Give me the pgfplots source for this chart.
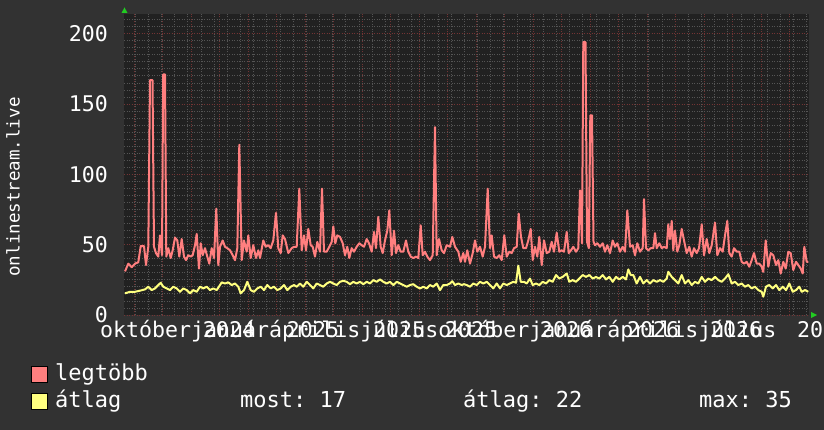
\documentclass[border=0pt]{standalone}
\usepackage{pgfplots}
\usepackage{pgfplotstable}
\pgfplotsset{compat=1.18}
\usepackage{fontspec}
\newfontfamily\rrd{DejaVu Sans Mono}
\newcommand\rf{\rrd\fontsize{21.6pt}{26pt}\selectfont}
\newcommand\lf{\rrd\fontsize{22pt}{26pt}\selectfont}
\frenchspacing

\definecolor{canvas}{HTML}{323232}
\definecolor{plotbg}{HTML}{212121}
\definecolor{gridmin}{HTML}{555555}
\definecolor{gridmaj}{HTML}{733434}
\definecolor{maxc}{HTML}{FF7F7F}
\definecolor{avgc}{HTML}{FFFF7F}
\definecolor{arrowc}{HTML}{22CC22}

% x = position on the time axis, y = viewers
\pgfplotstableread{
x y
125 31
128.3 36.5
131.7 34
135 36.5
138.3 37.5
140.7 49
144 49
146 35.5
148.3 48.5
150 167
152.5 167
154 48.5
156 44
158.3 41.5
160 56.6
162 42.5
163.2 171
165 171
166.3 41.5
168.3 47.5
170.7 40.5
172.7 46
175 55
177.3 53
179.3 41.5
181.7 54
184 41.5
186 39
188.3 42.5
190.7 41.5
192.7 42.5
195 49.6
196.7 57.6
199 33
200.7 51
202.7 42.5
205 47.5
207.3 41.5
209.3 36.5
211.7 47.5
214 40.5
216.3 75.6
218.3 35.5
220 48.5
222.7 53
225 48.5
227.3 47.5
230 46
232.7 42.5
235 39
237.3 47.5
239.3 121
241.7 39
244 53
246.7 45
248.3 56.6
250.7 40.5
253.3 49.6
256 40.5
258.3 46
260 40.5
263.3 53
265.7 48.5
268.3 49.6
270.7 47.5
273.3 53
276 72.6
278.3 47.5
280.7 44
282.7 56.6
285 54
288.3 44
291.7 47.5
294 48.5
296.7 48.5
299.3 89.8
301.7 46
304 56.6
306 46
308.3 61.2
310.7 49.6
312.7 48.5
315 41.5
317.3 52
320 45
322 89.8
324 45
326.7 45
329.3 48.5
331.7 52
333.3 63
335.3 51
337.3 56.6
340 55.5
342.7 51
345 42.5
347.3 48.5
349.3 40.5
351.7 47.5
354 45
356.7 48.5
359.3 51
361.7 49.6
364 48.5
366.7 54
369 51
371.7 45
374 59
376 47.5
378.3 69.7
380.7 48.5
382.7 44
385 53
387.3 60
389.3 74.4
391.7 42.5
394 60
396 44
398.3 49.6
400.7 45
403.3 45
406 53
408.3 45
410.7 41.5
413.3 40.5
416 41.5
418.3 40.5
420.7 63.8
422.7 42.5
425 45
427.3 41.5
430 39
432.7 42.5
435 133.6
436.7 42.5
439 54
441.7 46
444 44
446.7 49.6
450 48.5
452.3 55.5
455 48.5
458.3 45
460.7 37.8
463.3 44
465 37.8
467.3 46
470 36.5
472.7 44
475 53
477.3 45
480 48.5
482.7 41.5
485 48.5
487.7 89.8
490 47.5
491.7 56.6
494 41.5
496.7 40.5
499.3 42.5
501.7 39
504.3 56.6
506.7 41.5
509.3 45
511.7 44
514 47.5
516.7 48.5
518.7 72.1
521 55.5
523.3 47.5
526 47.5
528.3 53
530.7 61.2
532.7 39
535 48.5
537.3 41.5
539.3 55.5
541.7 35.5
544 53
546.7 44
549.3 45
551.7 52
554 45
556.7 58.5
559.3 45
561.7 46
564 45
566.7 59.1
568.7 44
571 46
573.3 48.5
576 45
578.3 47.5
580 88.6
582 51
583.3 194
585.5 194
587 52
588.8 47.5
590.3 142
592 142
593.5 52
595 49.6
597.3 51
600 48.5
602.7 51
605 45
607.3 49.6
610 44
612.7 53
615 48.5
617.3 51
620 45
622.7 48.5
625 45
627.3 74.4
630 48.5
632.7 49.6
635 42.5
637.3 51
640 45
642.7 47.5
644 82.3
646 47.5
648.3 46
650.7 47.5
653.3 47.5
655 58.2
656.7 47.5
659.3 51
661.7 47.5
664 48.5
666.7 47.5
668.3 64.5
670 54
671.7 66.9
673.3 46
675 60
677.3 45
679.3 49.6
681.7 61.2
684 53
686.7 44
689.3 48.5
691.7 41.5
694 47.5
696.7 44
699 47.5
701.7 64.5
704 42.5
706.7 54
709.3 44
711.7 49.6
715 65.7
717.3 42.5
720 47.5
722.7 45
725 56.6
727.3 66.9
729.3 44
731.7 41.5
734 47.5
736.7 45
739.3 45
741.7 37.8
744 36.5
746.7 37.8
749.3 34.3
751.7 39
754 44
756.7 36.5
759.3 36.5
761.7 34.3
763.3 30.7
765.7 53
768.3 34.3
770.7 44
773.3 42.5
776 35.5
778.3 39
780.7 29.5
783.3 37.8
785.7 33
788.3 45
790.7 44
793.3 31.9
796 37.8
798.3 35.5
800.7 33
802.7 29.5
804.3 48.5
806.7 37.8
808.3 37.8
}\maxdata

\pgfplotstableread{
x y
125 15.4
130 16.5
135 16.5
140 17.3
145 18.2
148.3 20.1
151.7 17.7
155 18.9
158.3 21.3
160.7 22.9
163.3 20.1
166.7 18.9
170 17.7
173.3 20.1
176.7 18.9
180 16.5
183.3 18.9
186.7 17.7
190 15.4
193.3 17.7
196.7 16.5
200 20.1
203.3 18.9
206.7 20.1
210 17.7
213.3 18.9
216.7 17.7
220 21.3
221.7 23.2
225 22.4
228.3 23.2
231.7 21.3
235 22.4
238.3 20.1
240.7 15.4
244 17.7
247.3 23.6
250.7 17.7
254 16.5
257.3 18.9
260.7 20.1
264 17.7
267.3 21.3
270.7 18.9
274 20.1
277.3 17.7
280.7 18.9
284 21.3
287.3 17.7
290.7 20.1
294 21.3
296.7 20.1
300 22.4
303.3 20.1
306.7 23.6
310 21.3
313.3 18.9
316.7 22.4
320 21.3
323.3 20.1
326.7 22.4
330 23.6
333.3 22.4
336.7 21.3
340 23.6
343.3 24.3
346.7 23.6
350 21.9
353.3 23.6
356.7 22.4
360 23.6
363.3 21.9
366.7 23.6
370 22.4
373.3 24.8
376.7 23.6
380 25.3
383.3 23.6
386.7 22.4
390 23.6
393.3 21.3
396.7 23.6
400 22.4
403.3 21.3
406.7 20.1
410 21.3
413.3 21.9
416.7 20.1
420 18.9
423.3 20.1
426.7 18.9
430 21.3
433.3 20.1
436.7 22.4
440 17.7
443.3 21.3
446.7 21.3
450 22.4
452.3 24
455 21.3
458.3 22.4
461.7 21.3
464 21.9
466.7 21.3
470 20.1
473.3 22.4
476.7 21.3
480 23.6
483.3 22.4
486.7 23.6
490 21.3
493.3 18.9
496.7 22.4
500 18.9
503.3 22.4
506.7 21.3
510 22.4
513.3 23.6
516 22.9
518.3 35
520.7 23.6
524 23.6
526.7 22.4
530 25.9
532.7 21.3
536 22.4
539.3 21.3
542.7 23.6
546 22.4
549.3 24.8
552.7 23.6
556 28.4
559.3 25.9
562.7 27.1
566.7 29.5
569.3 23.6
572.7 24.8
576 23.6
579.3 25.9
582.7 28.4
586 27.1
589.3 28.4
592.7 25.9
596 27.1
599.3 25.9
602.7 28.4
606 25.3
609.3 27.1
612.7 23.6
616 27.1
619.3 25.3
622.7 27.1
626 25.3
628.3 32.4
630.7 28.4
633.3 28.4
636.7 22.4
640 27.1
643.3 22.4
646.7 24.8
650 22.4
653.3 24.8
656.7 23.6
660 24.8
663.3 23.6
666.7 25.9
668.3 30.7
671.7 27.1
675 24.8
678.3 22.4
681.7 28.4
685 22.4
688.3 24.8
691.7 21.3
695 23.6
698.3 22.4
701.7 27.1
705 23.6
708.3 25.9
711.7 24.8
715 27.1
718.3 24.8
721.7 23.6
725 25.9
728.3 29
731.7 22.4
735 23.6
738.3 21.3
741.7 22.4
745 20.1
748.3 21.3
751.7 18.9
755 20.1
758.3 17.7
761.7 16.5
763.3 13
766 20.1
769.3 21.3
772.7 18.9
776 21.3
779.3 17.7
782.7 20.1
786 17.7
789.3 22.4
792.7 16.5
796 17.7
799.3 20.1
801.7 16.5
805 17.7
808.3 16.5
}\avgdata

\begin{document}
\begin{tikzpicture}
\fill[canvas] (0,0) rectangle (824pt,430pt);

\begin{axis}[
  at={(124pt,115pt)}, anchor=south west,
  width=685pt, height=301pt, scale only axis,
  xmin=124, xmax=809, ymin=0, ymax=214,
  axis background/.style={fill=plotbg},
  axis line style={draw=none},
  xtick={134.3,162.8,...,809},
  minor xtick={135.1,148.27,...,809},
  ytick={0,50,...,200},
  minor ytick={0,5,...,214},
  xticklabels={},
  grid=both,
  minor grid style={gridmin, dash pattern=on 1pt off 1.5pt, line width=0.8pt},
  major grid style={gridmaj, dash pattern=on 1pt off 1.5pt, line width=0.8pt},
  tick style={draw=none},
  /pgf/number format/assume math mode=true,
  yticklabel style={font=\rf, text=white, anchor=east, inner sep=0pt, xshift=-16pt},
]
\addplot[maxc, line width=2pt, line join=round] table[x=x, y=y] {\maxdata};
\addplot[avgc, line width=2pt, line join=round] table[x=x, y=y] {\avgdata};
\end{axis}

% green axis arrows
\fill[arrowc] (121.5pt,417pt) -- (127.5pt,417pt) -- (124.5pt,422.5pt) -- cycle;
\fill[arrowc] (811pt,118pt) -- (811pt,112pt) -- (817pt,115pt) -- cycle;

% y label
\node[rotate=90, font=\rrd\fontsize{17.5pt}{20pt}\selectfont, text=white, inner sep=0pt] at (13pt,243pt) {onlinestream.live};

% overlapping time labels, month names and years on top of each other
\node[anchor=base west, font=\rf, text=white, inner sep=0pt] at (100pt,92pt)
  {októberjanuáráprilisjúliusoktóberjanuáráprilisjúlius};
\foreach \xx/\yy in {229/2024,313/2025,399/2025,471/2025,566/2026,653/2026,736/2026,823/2026}
  \node[anchor=base, font=\rf, text=white, inner sep=0pt] at (\xx pt,92pt) {\yy};

% legend
\filldraw[fill=maxc, draw=black, line width=0.8pt] (31.5pt,48pt) rectangle (47.5pt,64pt);
\filldraw[fill=avgc, draw=black, line width=0.8pt] (31.5pt,21pt) rectangle (47.5pt,37pt);
\node[anchor=base west, font=\lf, text=white, inner sep=0pt] at (55pt,49pt) {legtöbb};
\node[anchor=base west, font=\lf, text=white, inner sep=0pt] at (55pt,22pt) {átlag};
\node[anchor=base west, font=\lf, text=white, inner sep=0pt] at (240pt,22pt) {most: 17};
\node[anchor=base west, font=\lf, text=white, inner sep=0pt] at (463pt,22pt) {átlag: 22};
\node[anchor=base west, font=\lf, text=white, inner sep=0pt] at (699pt,22pt) {max: 35};

\pgfresetboundingbox
\path[use as bounding box] (0,0) rectangle (824pt,430pt);
\end{tikzpicture}
\end{document}
